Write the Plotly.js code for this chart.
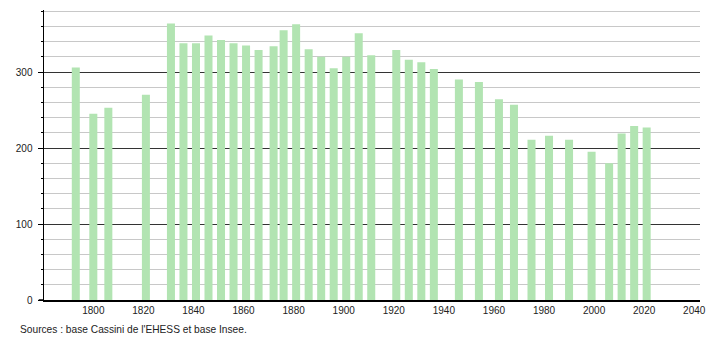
<!DOCTYPE html>
<html>
<head>
<meta charset="utf-8">
<script src="https://cdn.plot.ly/plotly-3.0.1.min.js"></script>
<style>html,body{margin:0;padding:0;background:#fff;}#chart{width:710px;height:340px;}</style>
</head>
<body>
<div id="chart"></div>
<script>
var years = [1793,1800,1806,1821,1831,1836,1841,1846,1851,1856,1861,1866,1872,1876,1881,1886,1891,1896,1901,1906,1911,1921,1926,1931,1936,1946,1954,1962,1968,1975,1982,1990,1999,2006,2011,2016,2021];
var population = [306,245,253,270,364,338,338,348,342,338,335,329,334,355,363,330,320,305,320,351,322,329,316,313,304,290,287,264,257,211,216,211,195,180,219,229,227];
var xTicks = [1800,1820,1840,1860,1880,1900,1920,1940,1960,1980,2000,2020,2040];
var sourceText = "Sources : base Cassini de l'EHESS et base Insee.";

var trace = {
  type: 'bar',
  x: years,
  y: population,
  width: 3.2,
  marker: {color: '#b2e4b2', line: {width: 0}},
  hoverinfo: 'x+y'
};

var layout = {
  width: 710,
  height: 340,
  margin: {l: 44, r: 10, t: 10, b: 40},
  paper_bgcolor: '#fff',
  plot_bgcolor: '#fff',
  showlegend: false,
  font: {family: 'Liberation Sans, Arial, sans-serif', size: 10, color: '#222'},
  xaxis: {
    range: [1780.3, 2042.3],
    tickmode: 'array',
    tickvals: xTicks,
    ticktext: xTicks.map(String),
    ticks: '',
    ticklabelstandoff: 0,
    showgrid: false,
    zeroline: false,
    showline: true,
    linecolor: '#000',
    linewidth: 1.5,
    tickfont: {size: 10, color: '#222'}
  },
  yaxis: {
    range: [0, 381.6],
    tick0: 0,
    dtick: 100,
    ticks: 'outside',
    ticklen: 5,
    tickcolor: '#000',
    ticklabelstandoff: 3,
    showgrid: true,
    gridcolor: '#333',
    gridwidth: 1,
    zeroline: false,
    showline: true,
    linecolor: '#000',
    linewidth: 1.5,
    tickfont: {size: 10, color: '#222'},
    minor: {
      tick0: 0,
      dtick: 20,
      ticks: 'outside',
      ticklen: 2,
      tickcolor: '#000',
      showgrid: true,
      gridcolor: '#c8c8c8',
      gridwidth: 1
    }
  },
  shapes: [{
    type: 'line', xref: 'paper', yref: 'paper',
    x0: -0.008, x1: 0, y0: 0, y1: 0,
    line: {color: '#000', width: 1.5}
  }],
  annotations: [{
    text: sourceText,
    xref: 'paper', yref: 'paper',
    x: -0.04, y: -0.1,
    xanchor: 'left', yanchor: 'middle',
    showarrow: false,
    font: {size: 10.2, color: '#222', family: 'Liberation Sans, Arial, sans-serif'}
  }]
};

Plotly.newPlot('chart', [trace], layout, {displayModeBar: false, staticPlot: true});
</script>
</body>
</html>
